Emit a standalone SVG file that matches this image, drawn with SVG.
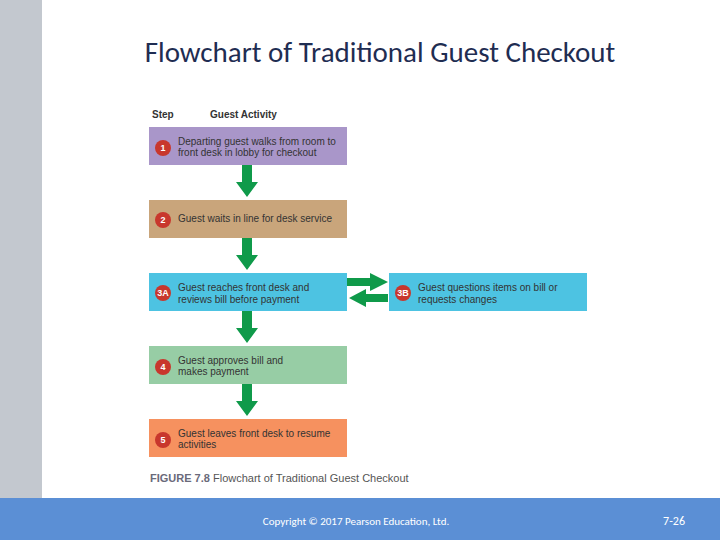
<svg xmlns="http://www.w3.org/2000/svg" width="720" height="540" viewBox="0 0 720 540">
<style>
.t{font-family:"Liberation Sans",Arial,sans-serif;font-size:10px;fill:#333}
.n{font-family:"Liberation Sans",Arial,sans-serif;font-size:9px;font-weight:bold;fill:#fff;text-anchor:middle}
.c{fill:#c8372d}
.a{fill:#0f9a4a}
</style>
<rect x="0" y="0" width="720" height="540" fill="#fff"/>
<rect x="0" y="0" width="42" height="498" fill="#c3c8cf"/>
<rect x="0" y="498" width="720" height="42" fill="#5b8fd5"/>
<text x="380" y="62" font-family="Carlito,'Liberation Sans',sans-serif" font-size="29" fill="#1f2d52" text-anchor="middle">Flowchart of Traditional Guest Checkout</text>
<text x="152" y="118" font-family="'Liberation Sans',sans-serif" font-size="10" font-weight="bold" fill="#333">Step</text>
<text x="210" y="118" font-family="'Liberation Sans',sans-serif" font-size="10" font-weight="bold" fill="#333">Guest Activity</text>
<g id="connectors">
<polygon class="a" points="242,165 252,165 252,182 258,182 247,197 236,182 242,182"/>
<polygon class="a" points="242,238 252,238 252,255 258,255 247,270 236,255 242,255"/>
<polygon class="a" points="242,311 252,311 252,328 258,328 247,343 236,328 242,328"/>
<polygon class="a" points="242,384 252,384 252,401 258,401 247,416 236,401 242,401"/>
<polygon class="a" points="347,278 370,278 370,273 388,282 370,291 370,286 347,286"/>
<polygon class="a" points="388,294 366,294 366,289 349,298 366,307 366,302 388,302"/>
</g>
<g id="n1"><rect x="149" y="127" width="198" height="38" fill="#a996c9"/><circle class="c" cx="163" cy="148" r="8"/><text class="n" x="163" y="151">1</text><text class="t" x="178" y="145">Departing guest walks from room to</text><text class="t" x="178" y="156">front desk in lobby for checkout</text></g>
<g id="n2"><rect x="149" y="200" width="198" height="38" fill="#c9a57b"/><circle class="c" cx="163" cy="220" r="8"/><text class="n" x="163" y="223">2</text><text class="t" x="178" y="222">Guest waits in line for desk service</text></g>
<g id="n3a"><rect x="149" y="273" width="198" height="38" fill="#4dc3e2"/><circle class="c" cx="163" cy="293" r="8"/><text class="n" x="163" y="296">3A</text><text class="t" x="178" y="291">Guest reaches front desk and</text><text class="t" x="178" y="303">reviews bill before payment</text></g>
<g id="n3b"><rect x="389" y="273" width="198" height="38" fill="#4dc3e2"/><circle class="c" cx="403" cy="293" r="8"/><text class="n" x="403" y="296">3B</text><text class="t" x="418" y="291">Guest questions items on bill or</text><text class="t" x="418" y="303">requests changes</text></g>
<g id="n4"><rect x="149" y="346" width="198" height="38" fill="#97cda5"/><circle class="c" cx="163" cy="367" r="8"/><text class="n" x="163" y="370">4</text><text class="t" x="178" y="364">Guest approves bill and</text><text class="t" x="178" y="375">makes payment</text></g>
<g id="n5"><rect x="149" y="419" width="198" height="38" fill="#f6915f"/><circle class="c" cx="163" cy="440" r="8"/><text class="n" x="163" y="443">5</text><text class="t" x="178" y="437">Guest leaves front desk to resume</text><text class="t" x="178" y="448">activities</text></g>
<text x="150" y="482" font-family="'Liberation Sans',sans-serif" font-size="11" fill="#555"><tspan font-weight="bold" fill="#6a6a7a">FIGURE 7.8</tspan> Flowchart of Traditional Guest Checkout</text>
<text x="356" y="525" font-family="Carlito,'Liberation Sans',sans-serif" font-size="11" fill="#fff" text-anchor="middle">Copyright © 2017 Pearson Education, Ltd.</text>
<text x="685" y="525" font-family="Carlito,'Liberation Sans',sans-serif" font-size="12" fill="#fff" text-anchor="end">7-26</text>
</svg>
